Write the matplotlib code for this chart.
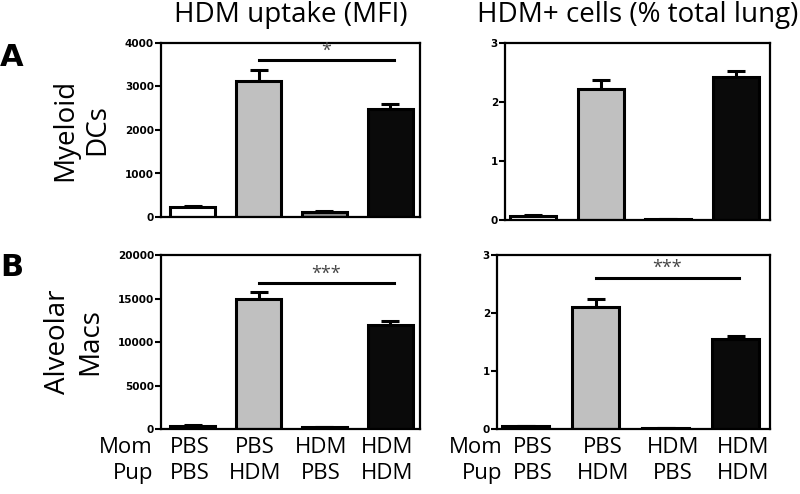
import numpy as np
import matplotlib.pyplot as plt

plt.rcParams['font.family'] = ['Open Sans', 'DejaVu Sans']

moms = ['PBS', 'PBS', 'HDM', 'HDM']
pups = ['PBS', 'HDM', 'PBS', 'HDM']
colors = ['white', '#c0c0c0', '#8c8c8c', '#0a0a0a']

# values (mean, upper SEM)
dc_mfi = [220, 3130, 110, 2480]
dc_mfi_err = [40, 250, 25, 120]
dc_pct = [0.07, 2.22, 0.02, 2.42]
dc_pct_err = [0.02, 0.16, 0.005, 0.11]
am_mfi = [400, 14900, 200, 12000]
am_mfi_err = [60, 800, 30, 400]
am_pct = [0.05, 2.10, 0.02, 1.55]
am_pct_err = [0.01, 0.15, 0.004, 0.06]

titles = ['HDM uptake (MFI)', 'HDM+ cells (% total lung)']
rows = ['Myeloid\nDCs', 'Alveolar\nMacs']

fig = plt.figure(figsize=(8, 4.94), dpi=100)
W, H = 800, 494
def px(l, t, r, b):
    return [l / W, 1 - b / H, (r - l) / W, (b - t) / H]

axes = [fig.add_axes(px(161, 43, 420, 217)), fig.add_axes(px(505, 43, 770, 220)),
        fig.add_axes(px(161, 255, 420, 429)), fig.add_axes(px(497, 255, 770, 429))]
data = [(dc_mfi, dc_mfi_err, 4000, 1000), (dc_pct, dc_pct_err, 3, 1),
        (am_mfi, am_mfi_err, 20000, 5000), (am_pct, am_pct_err, 3, 1)]
sig = [(3600, '*'), None, (16750, '***'), (2.6, '***')]
xlims = [(-0.48, 3.45), (-0.41, 3.5), (-0.48, 3.45), (-0.41, 3.49)]

x = np.arange(4)
for i, ax in enumerate(axes):
    vals, err, ymax, step = data[i]
    ax.bar(x, vals, width=0.68, color=colors, edgecolor='black', linewidth=2.2, zorder=2)
    ax.errorbar(x, vals, yerr=[np.zeros(4), err], fmt='none', ecolor='black',
                elinewidth=2.2, capsize=6.5, capthick=2.2, zorder=1)
    ax.set_xlim(*xlims[i])
    ax.set_ylim(0, ymax)
    ax.set_yticks(np.arange(0, ymax + step, step))
    ax.set_xticks([])
    for lab in ax.get_yticklabels():
        lab.set_fontweight('bold')
        lab.set_family('DejaVu Sans')
    ax.tick_params(axis='y', labelsize=7.5, width=1.5, length=4, pad=1)
    for s in ax.spines.values():
        s.set_linewidth(1.6)
    if sig[i]:
        yy, st = sig[i]
        ax.plot([1, 3.05], [yy, yy], color='black', lw=2.2)
        ax.text(2.02, yy + ymax * 0.005, st, ha='center', va='bottom', fontsize=13, color='#444444')

axes[0].set_title(titles[0], fontsize=20, pad=15)
axes[1].set_title(titles[1], fontsize=20, pad=15)
axes[0].set_ylabel(rows[0], fontsize=20, linespacing=1.2, labelpad=10)
axes[2].set_ylabel(rows[1], fontsize=20, linespacing=1.2, labelpad=10)

fig.text(0.0, 1 - 57 / H, 'A', fontsize=22, fontweight='bold', family='DejaVu Sans', va='center')
fig.text(0.0, 1 - 268 / H, 'B', fontsize=22, fontweight='bold', family='DejaVu Sans', va='center')

row_x = {2: -0.6, 3: -0.33}
lab_dx = {2: -0.05, 3: 0.1}
for k in (2, 3):
    ax = axes[k]
    tr = ax.get_xaxis_transform()
    ax.text(row_x[k], -0.105, 'Mom', transform=tr, ha='right', va='center', fontsize=16)
    ax.text(row_x[k], -0.255, 'Pup', transform=tr, ha='right', va='center', fontsize=16)
    for j in range(4):
        ax.text(x[j] + lab_dx[k], -0.105, moms[j], transform=tr, ha='center', va='center', fontsize=16)
        ax.text(x[j] + lab_dx[k], -0.255, pups[j], transform=tr, ha='center', va='center', fontsize=16)

fig.savefig('out.png', dpi=100)
